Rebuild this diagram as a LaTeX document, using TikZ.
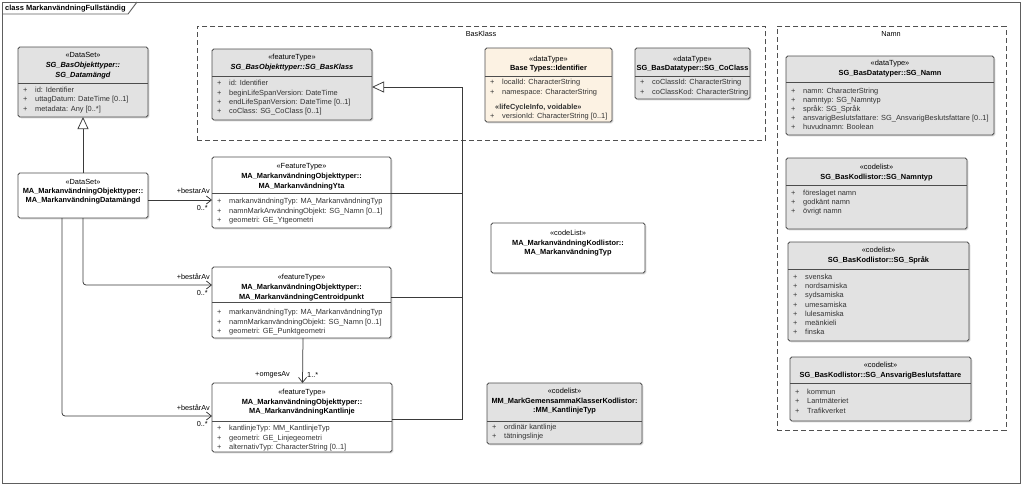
\documentclass[tikz,border=0pt]{standalone}
\usepackage{fontspec}
\setmainfont{Liberation Sans}
\usetikzlibrary{arrows.meta,shadows,calc}
\definecolor{boxgray}{HTML}{E2E2E2}
\definecolor{peach}{HTML}{FCF2E3}
\definecolor{boxedge}{HTML}{4D4D4D}
\definecolor{connc}{HTML}{3A3A3A}
\definecolor{pkgc}{HTML}{505050}
\definecolor{atttxt}{HTML}{333333}
\definecolor{framec}{HTML}{5E5E5E}
\newcommand\pl{\strut\makebox[12pt][l]{+}}
\begin{document}
\begin{tikzpicture}[x=1pt,y=-1pt,
  cls/.style={draw=boxedge, line width=0.8pt, rounded corners=1.8pt, anchor=north west, inner sep=0pt, outer sep=0pt,
    drop shadow={shadow xshift=1.3pt, shadow yshift=-1.3pt, opacity=0.3}},
  hdrtext/.style={anchor=north, align=center, inner sep=0pt, font=\fontsize{7.4}{9.7}\selectfont, text=black},
  atttext/.style={anchor=north west, align=left, inner sep=0pt, font=\fontsize{7.4}{9.3}\selectfont, text=atttxt},
  divline/.style={draw=boxedge, line width=0.7pt},
  conn/.style={draw=connc, line width=0.75pt},
  assoc/.style={-{Straight Barb[length=5pt,width=8pt]}, rounded corners=3pt},
  gen/.style={-{Triangle[open,length=12pt,width=11pt,fill=white]}},
  pkgbox/.style={draw=pkgc, line width=0.85pt, dash pattern=on 5pt off 3pt, anchor=north west, inner sep=0pt},
  lbl/.style={inner sep=0pt, font=\fontsize{7.3}{8}\selectfont},
]
\useasboundingbox (0,0) rectangle (1023,485);
\fill[white] (0,0) rectangle (1023,485);
% frame
\draw[framec, line width=0.9pt] (2,2) rectangle (1020.5,483);
\draw[framec, line width=0.9pt] (2,14) -- (128,14) -- (137,2);
\node[anchor=west, inner sep=0pt, font=\bfseries\fontsize{7.5}{9}\selectfont] (title) at (5,8.5) {class MarkanvändningFullständig};
% packages
\node[pkgbox, minimum width=568pt, minimum height=114pt] (pkgBas) at (197,26) {};
\node[lbl] (pkgBasLbl) at (481,33.5) {BasKlass};
\node[pkgbox, minimum width=228.5pt, minimum height=404pt] (pkgNamn) at (777,26) {};
\node[lbl] (pkgNamnLbl) at (891,34) {Namn};

% SG_Datamangd
\node[cls, fill=boxgray, minimum width=130pt, minimum height=70pt] (sgdm) at (18,47) {};
\draw[divline] (sgdm.west |- 0,83) -- (sgdm.east |- 0,83);
\node[hdrtext, font=\fontsize{7.4}{9.9}\selectfont] (sgdmH) at (83,50.8) {\strut«DataSet»\\\textbf{\textit{SG\_BasObjekttyper::}}\\\textbf{\textit{SG\_Datamängd}}};
\node[atttext] (sgdmA) at (23,85.8) {\pl id: Identifier\\\pl uttagDatum: DateTime [0..1]\\\pl metadata: Any [0..*]};

% MA Datamangd
\node[cls, fill=white, minimum width=130pt, minimum height=45pt] (mads) at (18,173) {};
\node[hdrtext, font=\fontsize{7.4}{9.2}\selectfont] (madsH) at (83,177.4) {\strut«DataSet»\\\textbf{MA\_MarkanvändningObjekttyper::}\\\textbf{MA\_MarkanvändningDatamängd}};

% SG_BasKlass
\node[cls, fill=boxgray, minimum width=160pt, minimum height=71pt] (bask) at (212,49) {};
\draw[divline] (bask.west |- 0,76.7) -- (bask.east |- 0,76.7);
\node[hdrtext] (baskH) at (292,52.5) {\strut«featureType»\\\textbf{\textit{SG\_BasObjekttyper::SG\_BasKlass}}};
\node[atttext] (baskA) at (217,79.1) {\pl id: Identifier\\\pl beginLifeSpanVersion: DateTime\\\pl endLifeSpanVersion: DateTime [0..1]\\\pl coClass: SG\_CoClass [0..1]};

% Identifier
\node[cls, fill=peach, minimum width=127pt, minimum height=74pt] (ident) at (485,48) {};
\draw[divline] (ident.west |- 0,76.7) -- (ident.east |- 0,76.7);
\node[hdrtext] (identH) at (548.5,54.1) {\strut«dataType»\\\textbf{Base Types::Identifier}};
\node[atttext] (identA) at (490,78.1) {\pl localId: CharacterString\\\pl namespace: CharacterString};
\node[atttext] (identS) at (495,102.5) {\strut\textbf{«lifeCycleInfo, voidable»}};
\node[atttext] (identB) at (490,111.5) {\pl versionId: CharacterString [0..1]};

% SG_CoClass
\node[cls, fill=boxgray, minimum width=115pt, minimum height=51pt] (cocl) at (635,48) {};
\draw[divline] (cocl.west |- 0,76.7) -- (cocl.east |- 0,76.7);
\node[hdrtext] (coclH) at (692.5,54.1) {\strut«dataType»\\\textbf{SG\_BasDatatyper::SG\_CoClass}};
\node[atttext] (coclA) at (640,78.1) {\pl coClassId: CharacterString\\\pl coClassKod: CharacterString};

% Yta
\node[cls, fill=white, minimum width=179pt, minimum height=71pt] (yta) at (212,157) {};
\draw[divline] (yta.west |- 0,193) -- (yta.east |- 0,193);
\node[hdrtext, font=\fontsize{7.4}{9.9}\selectfont] (ytaH) at (301.5,161.8) {\strut«FeatureType»\\\textbf{MA\_MarkanvändningObjekttyper::}\\\textbf{MA\_MarkanvändningYta}};
\node[atttext, font=\fontsize{7.4}{9.5}\selectfont] (ytaA) at (217,196.8) {\pl markanvändningTyp: MA\_MarkanvändningTyp\\\pl namnMarkAnvändningObjekt: SG\_Namn [0..1]\\\pl geometri: GE\_Ytgeometri};

% Centroidpunkt
\node[cls, fill=white, minimum width=179pt, minimum height=71pt] (cent) at (212,267) {};
\draw[divline] (cent.west |- 0,302.5) -- (cent.east |- 0,302.5);
\node[hdrtext, font=\fontsize{7.4}{9.9}\selectfont] (centH) at (301.5,272.8) {\strut«featureType»\\\textbf{MA\_MarkanvändningObjekttyper::}\\\textbf{MA\_MarkanvändningCentroidpunkt}};
\node[atttext, font=\fontsize{7.4}{9.5}\selectfont] (centA) at (217,307.8) {\pl markanvändningTyp: MA\_MarkanvändningTyp\\\pl namnMarkanvändningObjekt: SG\_Namn [0..1]\\\pl geometri: GE\_Punktgeometri};

% Kantlinje
\node[cls, fill=white, minimum width=180pt, minimum height=69pt] (kant) at (212,383) {};
\draw[divline] (kant.west |- 0,421) -- (kant.east |- 0,421);
\node[hdrtext, font=\fontsize{7.4}{9.5}\selectfont] (kantH) at (302,387.8) {\strut«featureType»\\\textbf{MA\_MarkanvändningObjekttyper::}\\\textbf{MA\_MarkanvändningKantlinje}};
\node[atttext, font=\fontsize{7.4}{9.5}\selectfont] (kantA) at (217,423.8) {\pl kantlinjeTyp: MM\_KantlinjeTyp\\\pl geometri: GE\_Linjegeometri\\\pl alternativTyp: CharacterString [0..1]};

% MA_MarkanvandningTyp codelist
\node[cls, fill=white, minimum width=154pt, minimum height=50pt] (matyp) at (491,223) {};
\node[hdrtext, font=\fontsize{7.4}{9.5}\selectfont] (matypH) at (568,228.8) {\strut«codeList»\\\textbf{MA\_MarkanvändningKodlistor::}\\\textbf{MA\_MarkanvändningTyp}};

% MM_KantlinjeTyp
\node[cls, fill=boxgray, minimum width=155pt, minimum height=61pt] (kltyp) at (487,383) {};
\draw[divline] (kltyp.west |- 0,421) -- (kltyp.east |- 0,421);
\node[hdrtext, font=\fontsize{7.4}{9.5}\selectfont] (kltypH) at (564.5,386.8) {\strut«codelist»\\\textbf{MM\_MarkGemensammaKlasserKodlistor:}\\\textbf{:MM\_KantlinjeTyp}};
\node[atttext] (kltypA) at (492,422.8) {\pl ordinär kantlinje\\\pl tätningslinje};

% SG_Namn
\node[cls, fill=boxgray, minimum width=208pt, minimum height=79pt] (namn) at (786,56) {};
\draw[divline] (namn.west |- 0,82) -- (namn.east |- 0,82);
\node[hdrtext] (namnH) at (890,58.8) {\strut«dataType»\\\textbf{SG\_BasDatatyper::SG\_Namn}};
\node[atttext, font=\fontsize{7.4}{9}\selectfont] (namnA) at (791,86.8) {\pl namn: CharacterString\\\pl namntyp: SG\_Namntyp\\\pl språk: SG\_Språk\\\pl ansvarigBeslutsfattare: SG\_AnsvarigBeslutsfattare [0..1]\\\pl huvudnamn: Boolean};

% SG_Namntyp
\node[cls, fill=boxgray, minimum width=181pt, minimum height=71pt] (namntyp) at (786,158) {};
\draw[divline] (namntyp.west |- 0,185) -- (namntyp.east |- 0,185);
\node[hdrtext] (namntypH) at (876.5,162.8) {\strut«codelist»\\\textbf{SG\_BasKodlistor::SG\_Namntyp}};
\node[atttext, font=\fontsize{7.4}{9}\selectfont] (namntypA) at (791,188.8) {\pl föreslaget namn\\\pl godkänt namn\\\pl övrigt namn};

% SG_Sprak
\node[cls, fill=boxgray, minimum width=181pt, minimum height=99pt] (sprak) at (788,242) {};
\draw[divline] (sprak.west |- 0,269) -- (sprak.east |- 0,269);
\node[hdrtext] (sprakH) at (878.5,245.8) {\strut«codelist»\\\textbf{SG\_BasKodlistor::SG\_Språk}};
\node[atttext, font=\fontsize{7.4}{9.2}\selectfont] (sprakA) at (793,272.8) {\pl svenska\\\pl nordsamiska\\\pl sydsamiska\\\pl umesamiska\\\pl lulesamiska\\\pl meänkieli\\\pl finska};

% SG_AnsvarigBeslutsfattare
\node[cls, fill=boxgray, minimum width=181pt, minimum height=64pt] (ansv) at (790,357) {};
\draw[divline] (ansv.west |- 0,383) -- (ansv.east |- 0,383);
\node[hdrtext] (ansvH) at (880.5,360.8) {\strut«codelist»\\\textbf{SG\_BasKodlistor::SG\_AnsvarigBeslutsfattare}};
\node[atttext, font=\fontsize{7.4}{9.4}\selectfont] (ansvA) at (795,387.8) {\pl kommun\\\pl Lantmäteriet\\\pl Trafikverket};

% generalizations
\draw[conn, gen] (mads.north) -- (sgdm.south);
\coordinate (gtop) at (462,87);
\coordinate (gY) at (462,193);
\coordinate (gC) at (462,297);
\coordinate (gK) at (462,419);
\draw[conn] (yta.east |- gY) -- (gY);
\draw[conn] (cent.east |- gC) -- (gC);
\draw[conn, gen] (kant.east |- gK) -- (gK) -- (gtop) -- (bask.east |- gtop);

% associations
\draw[conn, assoc] (mads.east |- 0,200) -- (yta.west |- 0,200);
\draw[conn, assoc] (mads.south) -- (83,285) -- (cent.west |- 0,285);
\draw[conn, assoc] ($(mads.south west)+(44,0)$) -- (62,416) -- (kant.west |- 0,416);
\draw[conn, assoc] ($(cent.south)+(1.5,0)$) -- ($(kant.north)+(0.5,0)$);

% labels
\node[lbl, anchor=east] (l1r) at (210,191) {+bestarAv};
\node[lbl, anchor=east] (l1m) at (208,208) {0..*};
\node[lbl, anchor=east] (l2r) at (210,277) {+bestårAv};
\node[lbl, anchor=east] (l2m) at (208,293) {0..*};
\node[lbl, anchor=east] (l3r) at (210,408) {+bestårAv};
\node[lbl, anchor=east] (l3m) at (208,424) {0..*};
\node[lbl, anchor=east] (l4r) at (290,375) {+omgesAv};
\node[lbl, anchor=west] (l4m) at (307,375) {1..*};
\end{tikzpicture}
\end{document}
